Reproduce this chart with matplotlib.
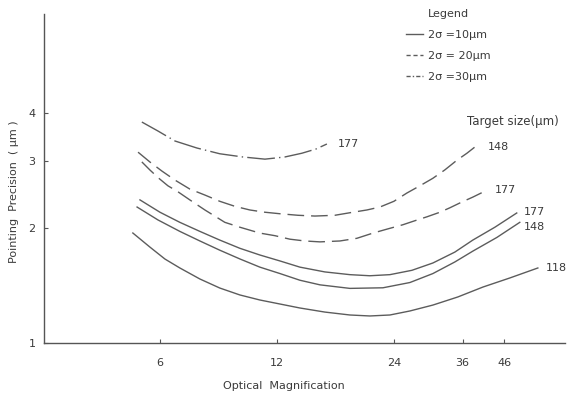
import matplotlib
matplotlib.use("Agg")
import matplotlib.pyplot as plt
from matplotlib.lines import Line2D
from matplotlib.ticker import NullLocator, FixedLocator, FixedFormatter

# Pointing precision vs optical magnification for several target sizes
# 2σ = 30 µm, target 177 µm
mag_30_177 = [5.39, 5.93, 6.56, 7.47, 8.55, 9.80, 11.17, 12.57, 13.90, 15.10, 16.12]
prec_30_177 = [3.79, 3.59, 3.38, 3.24, 3.13, 3.07, 3.03, 3.07, 3.14, 3.22, 3.32]

# 2σ = 20 µm, target 148 µm
mag_20_148 = [5.27, 5.65, 6.07, 6.56, 7.16, 7.83, 8.55, 9.35, 10.22, 11.17, 12.21, 13.58,
              15.02, 16.90, 18.80, 20.42, 22.06, 23.97, 25.88, 27.95, 30.19, 32.41, 34.80,
              36.93, 38.71]
prec_20_148 = [3.16, 2.98, 2.82, 2.67, 2.53, 2.44, 2.35, 2.28, 2.23, 2.20, 2.18, 2.16,
               2.15, 2.16, 2.20, 2.23, 2.27, 2.35, 2.47, 2.58, 2.70, 2.84, 3.01,
               3.14, 3.26]

# 2σ = 20 µm, target 177 µm
mag_20_177 = [5.39, 5.65, 5.96, 6.29, 6.67, 7.16, 7.83, 8.81, 9.63, 10.84, 11.85, 12.95,
              14.15, 15.47, 17.41, 19.25, 21.17, 23.13, 25.27, 27.13, 29.14, 31.47, 33.39,
              35.84, 38.24, 41.81]
prec_20_177 = [2.98, 2.84, 2.70, 2.58, 2.49, 2.37, 2.23, 2.07, 2.01, 1.94, 1.91, 1.87,
               1.85, 1.84, 1.85, 1.88, 1.94, 1.99, 2.04, 2.09, 2.14, 2.20, 2.26,
               2.34, 2.41, 2.52]

# 2σ = 10 µm, targets 177, 148, 118 µm
mag_10_177 = [5.33, 6.00, 6.75, 7.60, 8.55, 9.63, 10.84, 12.21, 13.74, 15.93, 18.47, 20.79,
              23.41, 26.66, 30.19, 34.38, 38.24, 43.58, 49.6]
prec_10_177 = [2.37, 2.20, 2.07, 1.96, 1.86, 1.77, 1.70, 1.64, 1.58, 1.535, 1.51, 1.50,
               1.51, 1.55, 1.62, 1.73, 1.86, 2.01, 2.19]

mag_10_148 = [5.24, 5.93, 6.75, 7.60, 8.55, 9.63, 10.84, 12.21, 13.74, 15.47, 18.47, 22.46,
              26.35, 30.19, 34.38, 38.24, 44.1, 50.5]
prec_10_148 = [2.27, 2.10, 1.96, 1.85, 1.75, 1.66, 1.58, 1.52, 1.46, 1.42, 1.39, 1.395,
               1.44, 1.52, 1.63, 1.74, 1.89, 2.07]

mag_10_118 = [5.11, 5.65, 6.18, 6.75, 7.60, 8.55, 9.63, 10.84, 12.21, 13.74, 15.93, 18.47,
              20.79, 23.41, 26.35, 30.19, 35.0, 40.58, 47.6, 56.2]
prec_10_118 = [1.941, 1.784, 1.659, 1.572, 1.471, 1.393, 1.336, 1.296, 1.265, 1.235, 1.205,
               1.184, 1.177, 1.184, 1.213, 1.257, 1.320, 1.401, 1.480, 1.572]

x_ticks = [6, 12, 24, 36, 46]
x_tick_labels = ["6", "12", "24", "36", "46"]
y_ticks = [1, 2, 3, 4]
y_tick_labels = ["1", "2", "3", "4"]

legend_labels = ["2σ =10µm", "2σ = 20µm", "2σ =30µm"]

LINE = "#5c5c5c"
INK = "#3a3a3a"
FS = 8

plt.rcParams["font.family"] = ["DejaVu Sans"]

fig = plt.figure(figsize=(5.71, 3.94), dpi=100)
ax = fig.add_axes([44 / 571, 51 / 394, (565 - 44) / 571, (343 - 14) / 394])
ax.set_xscale("log")
ax.set_yscale("log")
ax.set_xlim(3.02, 66)
ax.set_ylim(1, 7.27)

solid = dict(color=LINE, lw=1.0, ls="-")
dashed = dict(color=LINE, lw=1.0, dashes=(12, 5))
dashdot = dict(color=LINE, lw=1.0, dashes=(20, 3, 1, 3))

curves = [
    (mag_30_177, prec_30_177, dashdot, "177", (8, 0)),
    (mag_20_148, prec_20_148, dashed, "148", (9, 0)),
    (mag_20_177, prec_20_177, dashed, "177", (5, 0)),
    (mag_10_177, prec_10_177, solid, "177", (5, 1)),
    (mag_10_148, prec_10_148, solid, "148", (3, -3)),
    (mag_10_118, prec_10_118, solid, "118", (6, 0)),
]

for xs, ys, style, lab, off in curves:
    ax.plot(xs, ys, **style)
    ax.annotate(lab, xy=(xs[-1], ys[-1]), xytext=off, textcoords="offset points",
                ha="left", va="center", fontsize=FS, color=INK)

for side in ("top", "right"):
    ax.spines[side].set_visible(False)
for side in ("left", "bottom"):
    ax.spines[side].set_color("#555555")
    ax.spines[side].set_linewidth(1.0)

ax.xaxis.set_major_locator(FixedLocator(x_ticks))
ax.xaxis.set_major_formatter(FixedFormatter(x_tick_labels))
ax.xaxis.set_minor_locator(NullLocator())
ax.yaxis.set_major_locator(FixedLocator(y_ticks))
ax.yaxis.set_major_formatter(FixedFormatter(y_tick_labels))
ax.yaxis.set_minor_locator(NullLocator())
ax.tick_params(axis="x", direction="in", length=3, width=0.8, color="#555555",
               pad=11, labelsize=FS, labelcolor=INK)
ax.tick_params(axis="y", direction="in", length=3, width=0.8, color="#555555",
               pad=6, labelsize=FS, labelcolor=INK)

fig.text(284 / 571, 1 - 386 / 394, "Optical  Magnification", ha="center", va="center",
         fontsize=FS, color=INK)
fig.text(14 / 571, 1 - 192 / 394, "Pointing  Precision  ( µm )", ha="center", va="center",
         rotation=90, fontsize=FS, color=INK)
fig.text(467 / 571, 1 - 122 / 394, "Target size(µm)", ha="left", va="center",
         fontsize=8.5, color=INK)

handles = [Line2D([], [], **solid),
           Line2D([], [], color=LINE, lw=1.0, dashes=(3, 2)),
           Line2D([], [], color=LINE, lw=1.0, dashes=(3, 1.5, 1, 1.5))]
leg = ax.legend(handles, legend_labels, title="Legend", loc="upper left",
                bbox_to_anchor=(406 / 571, 1 - 9 / 394), bbox_transform=fig.transFigure,
                frameon=False, handlelength=1.5, handletextpad=0.5, labelspacing=1.0,
                borderpad=0, borderaxespad=0, fontsize=FS, title_fontsize=FS)
for t in leg.get_texts():
    t.set_color(INK)
leg.get_title().set_color(INK)

fig.savefig("out.png", dpi=100, facecolor="white")
